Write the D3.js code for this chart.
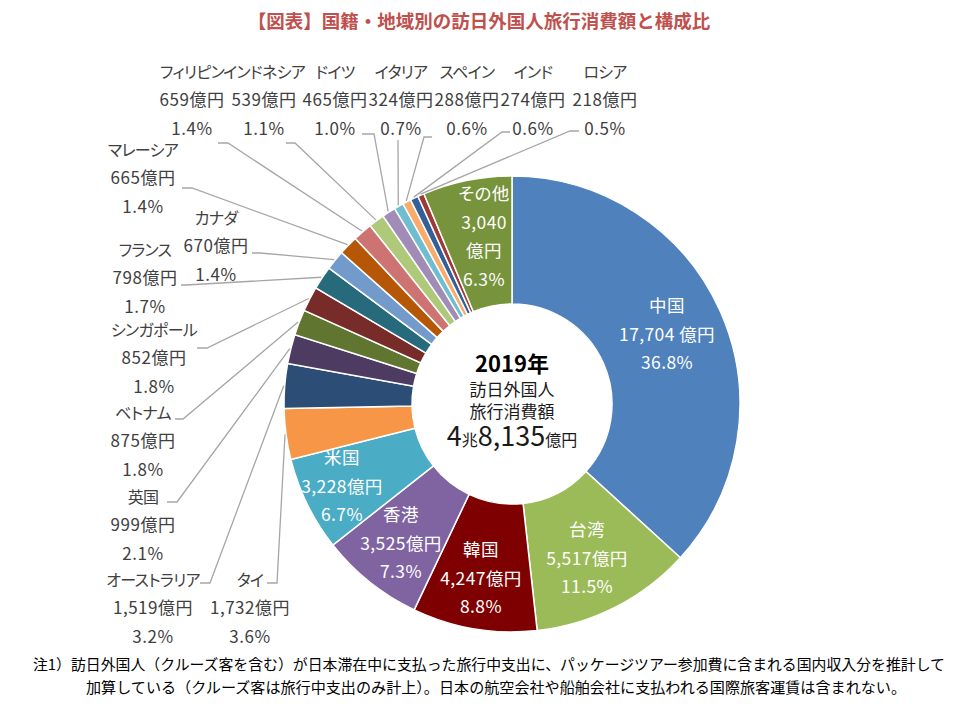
<!DOCTYPE html>
<html lang="ja">
<head>
<meta charset="UTF-8">
<title>国籍・地域別の訪日外国人旅行消費額と構成比</title>
<script src="https://cdn.jsdelivr.net/npm/d3@7"></script>
<style>
  body { margin: 0; background: #fff; }
  svg text { font-family: "Noto Sans CJK JP", "Noto Sans", sans-serif; font-feature-settings: "palt"; }
  svg text.title, svg text.note { font-feature-settings: normal; }
</style>
</head>
<body>
<svg id="chart" width="960" height="713"></svg>
<script>
// data, clockwise from 12 o'clock
const countries = ["中国", "台湾", "韓国", "香港", "米国", "タイ", "オーストラリア", "英国", "ベトナム",
    "シンガポール", "フランス", "カナダ", "マレーシア", "フィリピン", "インドネシア", "ドイツ",
    "イタリア", "スペイン", "インド", "ロシア", "その他"];
const spending = [17704, 5517, 4247, 3525, 3228, 1732, 1519, 999, 875, 852, 798, 670, 665, 659, 539, 465,
    324, 288, 274, 218, 3040];
const total = 48135;

const colors = ["#4f81bd", "#9bbb59", "#7f0000", "#8064a2", "#4bacc6", "#f79646", "#2c4d75", "#4d3b62",
    "#5f7530", "#772c2a", "#276a7c", "#729aca", "#b65708", "#cd7371", "#afc97a", "#a18cb8",
    "#6fbdd1", "#f9ab6b", "#34609a", "#9c3b38", "#77933c"];

// label placement (as dragged in the original chart)
const insideLabels = {
    "中国": [667, 306], "台湾": [587, 530], "韓国": [481, 550],
    "香港": [401, 515], "米国": [342, 458], "その他": [484, 194]
};
const outsideLabels = {
    "フィリピン": { x: 192, y: 72, lead: [218, 143, 228] },
    "インドネシア": { x: 264, y: 72, lead: [286, 143, 295] },
    "ドイツ": { x: 335, y: 72, lead: [362, 134, 374] },
    "イタリア": { x: 401, y: 72, lead: [398, 140, 398] },
    "スペイン": { x: 467, y: 72, lead: [432, 137, 424] },
    "インド": { x: 533, y: 72, lead: [510, 132, 502] },
    "ロシア": { x: 605, y: 72, lead: [579, 131, 570] },
    "マレーシア": { x: 143, y: 150, lead: [182, 188, 192] },
    "カナダ": { x: 216, y: 218, lead: [252, 253, 260] },
    "フランス": { x: 145, y: 250, lead: [181, 285, 186] },
    "シンガポール": { x: 154, y: 330, lead: [197, 348, 207] },
    "ベトナム": { x: 143, y: 413, lead: [175, 419, 183] },
    "英国": { x: 143, y: 497, lead: [167, 502, 177] },
    "オーストラリア": { x: 153, y: 580, lead: [200, 583, 210] },
    "タイ": { x: 250, y: 580, lead: [267, 583, 277] }
};

const cx = 512, cy = 404, rIn = 100, rOut = 228, lineH = 28.5;
const fmt = d3.format(",");
const pct = v => d3.format(".1f")(v / total * 100) + "%";

const svg = d3.select("#chart");

svg.append("text")
    .attr("class", "title")
    .attr("x", 479).attr("y", 22).attr("dy", "0.35em")
    .attr("text-anchor", "middle")
    .attr("fill", "#c0504d").attr("font-weight", "bold").attr("font-size", 18.5)
    .text("【図表】国籍・地域別の訪日外国人旅行消費額と構成比");

const pie = d3.pie().sort(null).value(d => d.value);
const arc = d3.arc().innerRadius(rIn).outerRadius(rOut);
const rows = countries.map((c, i) => ({ name: c, value: spending[i], color: colors[i] }));
const arcs = pie(rows);

const g = svg.append("g").attr("transform", `translate(${cx},${cy})`);
g.selectAll("path.slice")
    .data(arcs)
    .enter()
    .append("path")
    .attr("class", "slice")
    .attr("d", arc)
    .attr("fill", d => d.data.color)
    .attr("stroke", "#fff")
    .attr("stroke-width", 1.5);

// leader lines for the small slices
const outside = arcs.filter(d => outsideLabels[d.data.name]);
svg.selectAll("polyline.leader")
    .data(outside)
    .enter()
    .append("polyline")
    .attr("class", "leader")
    .attr("fill", "none")
    .attr("stroke", "#a6a6a6")
    .attr("stroke-width", 1.3)
    .attr("points", function(d) {
        const L = outsideLabels[d.data.name].lead;
        const a = (d.startAngle + d.endAngle) / 2;
        const ex = cx + (rOut + 1) * Math.sin(a), ey = cy - (rOut + 1) * Math.cos(a);
        return [[L[0], L[1]], [L[2], L[1]], [ex, ey]].join(" ");
    });

const outText = svg.selectAll("g.outLabel")
    .data(outside)
    .enter()
    .append("g")
    .attr("class", "outLabel");
outText.each(function(d) {
    const p = outsideLabels[d.data.name];
    const lines = [d.data.name, fmt(d.data.value) + "億円", pct(d.data.value)];
    d3.select(this).selectAll("text")
        .data(lines)
        .enter()
        .append("text")
        .attr("x", p.x)
        .attr("y", (t, i) => p.y + i * lineH)
        .attr("dy", "0.35em")
        .attr("text-anchor", "middle")
        .attr("fill", "#404040")
        .attr("font-size", (t, i) => i === 0 ? 16 : 17)
        .attr("letter-spacing", (t, i) => i === 0 ? -0.7 : 0.5)
        .text(t => t);
});

// labels inside the ring
const inside = arcs.filter(d => insideLabels[d.data.name]);
svg.selectAll("g.inLabel")
    .data(inside)
    .enter()
    .append("g")
    .attr("class", "inLabel")
    .each(function(d) {
        const p = insideLabels[d.data.name];
        let lines;
        if (d.data.name === "その他") {
            lines = [d.data.name, fmt(d.data.value), "億円", pct(d.data.value)];
        } else if (d.data.name === "中国") {
            lines = [d.data.name, fmt(d.data.value) + " 億円", pct(d.data.value)];
        } else {
            lines = [d.data.name, fmt(d.data.value) + "億円", pct(d.data.value)];
        }
        d3.select(this).selectAll("text")
            .data(lines)
            .enter()
            .append("text")
            .attr("x", p[0])
            .attr("y", (t, i) => p[1] + i * lineH)
            .attr("dy", "0.35em")
            .attr("text-anchor", "middle")
            .attr("fill", "#fff")
            .attr("font-size", 17.5)
            .attr("letter-spacing", 0.4)
            .text(t => t);
    });

// centre of the donut
const centre = svg.append("g").attr("text-anchor", "middle").attr("fill", "#1a1a1a");
centre.append("text").attr("x", cx).attr("y", 364).attr("dy", "0.35em")
    .attr("font-size", 22).attr("font-weight", "bold").attr("fill", "#000").text("2019年");
centre.append("text").attr("x", cx).attr("y", 390).attr("dy", "0.35em")
    .attr("font-size", 17).text("訪日外国人");
centre.append("text").attr("x", cx).attr("y", 412).attr("dy", "0.35em")
    .attr("font-size", 17).text("旅行消費額");
const totalText = centre.append("text").attr("x", cx).attr("y", 440).attr("dy", "0.35em");
[["4", 27], ["兆", 16], ["8,135", 27], ["億円", 16]].forEach(function(p) {
    totalText.append("tspan").attr("font-size", p[1]).text(p[0]);
});

// note
const notes = [
    { x: 33, y: 665, w: 912, t: "注1）訪日外国人（クルーズ客を含む）が日本滞在中に支払った旅行中支出に、パッケージツアー参加費に含まれる国内収入分を推計して" },
    { x: 86, y: 688, w: 820, t: "加算している（クルーズ客は旅行中支出のみ計上）。日本の航空会社や船舶会社に支払われる国際旅客運賃は含まれない。" }
];
svg.selectAll("text.note")
    .data(notes)
    .enter()
    .append("text")
    .attr("class", "note")
    .attr("x", d => d.x)
    .attr("y", d => d.y)
    .attr("dy", "0.35em")
    .attr("font-size", 15)
    .attr("fill", "#000")
    .attr("textLength", d => d.w)
    .attr("lengthAdjust", "spacingAndGlyphs")
    .text(d => d.t);
</script>
</body>
</html>
